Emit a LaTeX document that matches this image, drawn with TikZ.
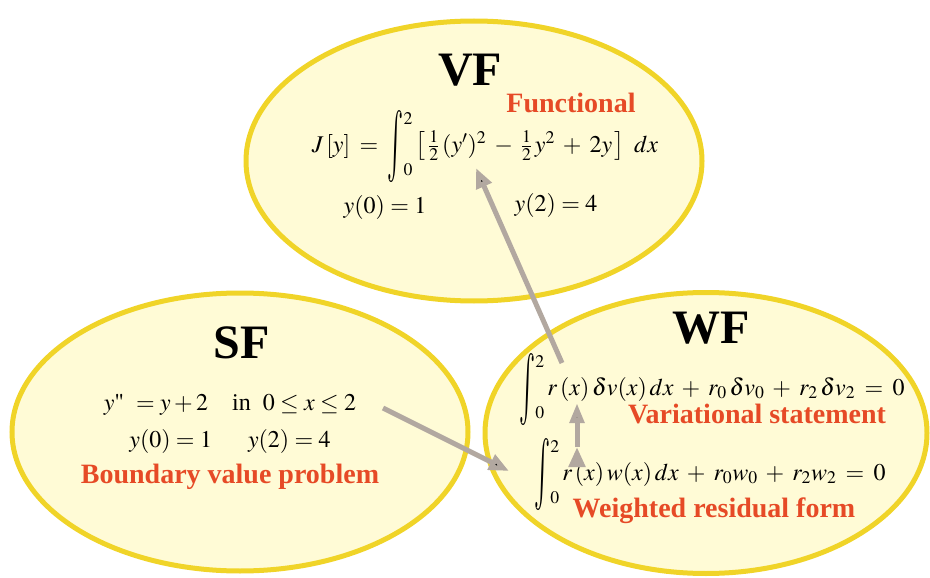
\documentclass[tikz,border=0pt]{standalone}
\usepackage{amsmath}
\usepackage{mathptmx}
\usepackage{fontspec}
\setmainfont{Liberation Serif}
\usetikzlibrary{shapes.geometric, arrows.meta, positioning}

\definecolor{bubbleline}{RGB}{240,212,40}
\definecolor{bubblefill}{RGB}{255,251,214}
\definecolor{labelred}{RGB}{230,74,38}
\definecolor{arrowgray}{RGB}{178,168,160}

% tall integral with limits at its side, and looser spacing round + and =
\newcommand{\tallint}[2]{\mathop{\vcenter{\hbox{\resizebox{16pt}{54pt}{$\int$}}}}\nolimits_{\raisebox{7pt}{$\scriptstyle #1$}}^{\raisebox{-8pt}{$\scriptstyle #2$}}}
\newcommand{\loose}{\medmuskip=6mu\relax\thickmuskip=7mu\relax}
\newcommand{\straightquote}{{\fontencoding{T1}\fontfamily{ptm}\selectfont\char34}}

\begin{document}
\begin{tikzpicture}[
		x = 1pt, y = -1pt, % pixel-like coordinates
		> = {Triangle[length=20pt, width=16pt]}, % arrow head style
		line cap = butt,
		font = \fontsize{24}{28}\selectfont
		]
		
		\tikzstyle{bubble}=[
		ellipse,
		draw = bubbleline,
		fill = bubblefill,
		line width = 5pt
		]
		\tikzstyle{title}=[anchor=base, font=\fontsize{48}{54}\selectfont\bfseries]
		\tikzstyle{tag}=[anchor=base, text=labelred, font=\fontsize{28}{32}\selectfont\bfseries]
		\tikzstyle{formula}=[anchor=base, inner sep=0pt]
		\tikzstyle{link}=[draw=arrowgray, line width=5pt]
		
		\useasboundingbox (0,0) rectangle (930,578);
		
		% the three ellipses
		\node[bubble, minimum width=456pt, minimum height=280pt] (vf) at (474,161) {};
		\node[bubble, minimum width=456pt, minimum height=278pt] (sf) at (240,432) {};
		\node[bubble, minimum width=442pt, minimum height=281pt] (wf) at (706,433) {};
		
		% VF
		\node[title] (vftitle) at (470,85) {VF};
		\node[tag] (functional) at (571,113) {Functional};
		\node[formula] (jfun) at (485,152) {$\loose J\,[y]=\tallint{0}{2} \big[\,\tfrac12\,(y')^2-\tfrac12\,y^2+2y\,\big]\;dx$};
		\node[formula] (vfbc0) at (385,213) {$y(0)=1$};
		\node[formula] (vfbc2) at (556,211) {$y(2)=4$};
		
		% SF
		\node[title] (sftitle) at (242,358) {SF};
		\node[formula] (ode) at (230,410) {$y$\straightquote\ \ $=y+2$\quad in\ \ $0\le x\le 2$};
		\node[formula] (sfbc) at (230,447) {$y(0)=1$\quad\ \ $y(2)=4$};
		\node[tag] (bvp) at (230,483) {Boundary value problem};
		
		% WF
		\node[title] (wftitle) at (711,343) {WF};
		\node[formula] (vareq) at (712,395) {$\loose\tallint{0}{2} r\,(x)\,\delta v(x)\,dx+r_0\,\delta v_0+r_2\,\delta v_2=0$};
		\node[tag] (varst) at (757,423) {Variational statement};
		\node[formula] (wreq) at (710,480) {$\loose\tallint{0}{2} r\,(x)\,w(x)\,dx+r_0w_0+r_2w_2=0$};
		\node[tag] (wrf) at (714,517) {Weighted residual form};
		
		% arrow ends
		\coordinate (vfin) at (476,168);
		\coordinate (wfout) at (562,363);
		\coordinate (sfout) at (383,408);
		\coordinate (wfin) at (509,471);
		\coordinate (wrout) at (577,447);
		\coordinate (varin) at (577,403);
		
		\path[->, link]
		(wfout) edge (vfin)
		(sfout) edge (wfin)
		(wrout) edge [-{Triangle[length=20pt, width=14pt]}] (varin)
		;
	\end{tikzpicture}
\end{document}
